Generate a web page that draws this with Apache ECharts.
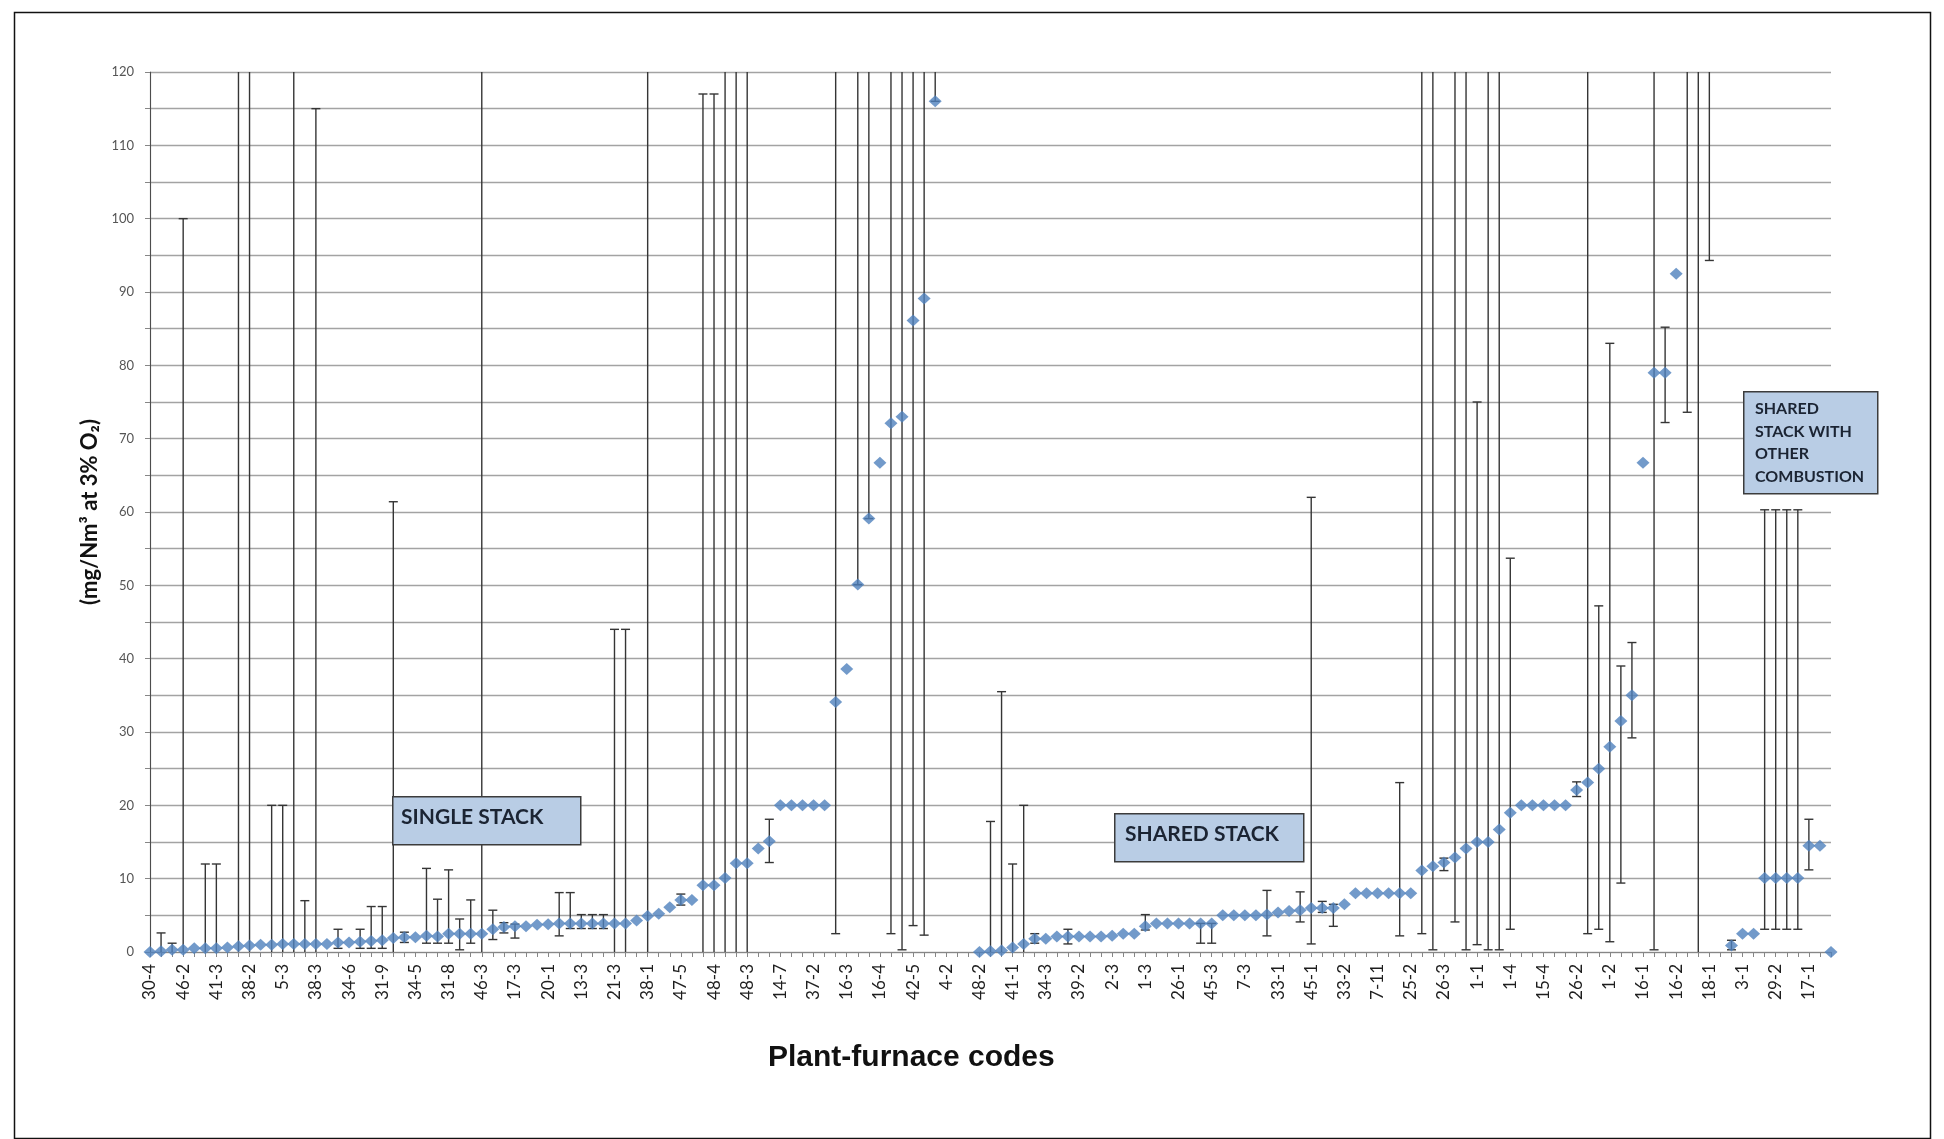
<!DOCTYPE html>
<html><head><meta charset="utf-8">
<script src="https://cdn.jsdelivr.net/npm/echarts/dist/echarts.min.js"></script>
<style>html,body{margin:0;padding:0;background:#fff}#c{width:1944px;height:1139px}</style>
</head><body><div id="c"></div>
<script>
// Tick labels shown on every third category
const tickLabels = ['30-4','46-2','41-3','38-2','5-3','38-3','34-6','31-9','34-5','31-8',
  '46-3','17-3','20-1','13-3','21-3','38-1','47-5','48-4','48-3','14-7','37-2','16-3','16-4','42-5','4-2',
  '48-2','41-1','34-3','39-2','2-3','1-3','26-1','45-3','7-3','33-1','45-1','33-2','7-11','25-2','26-3',
  '1-1','1-4','15-4','26-2','1-2','16-1','16-2','18-1','3-1','29-2','17-1'];

// Mean concentration per plant-furnace (null = no visible point)
const values = [
  0.0,0.1,0.3,0.3,0.5,0.5,0.5,0.6,0.8,0.9,
  1.0,1.0,1.1,1.1,1.1,1.1,1.1,1.3,1.3,1.4,
  1.5,1.6,1.9,2.0,2.0,2.2,2.1,2.5,2.5,2.5,
  2.5,3.1,3.4,3.5,3.5,3.7,3.8,3.9,3.9,3.9,
  3.9,3.9,3.9,3.9,4.3,4.9,5.2,6.1,7.1,7.1,
  9.1,9.1,10.1,12.1,12.1,14.1,15.1,20.0,20.0,20.0,
  20.0,20.0,34.1,38.6,50.1,59.1,66.7,72.1,73.0,86.1,
  89.1,116.0,null,null,null,0.0,0.1,0.2,0.6,1.1,
  1.8,1.8,2.1,2.1,2.1,2.1,2.1,2.2,2.5,2.5,
  3.5,3.9,3.9,3.9,3.9,3.9,3.9,5.0,5.0,5.0,
  5.0,5.1,5.4,5.6,5.7,6.0,6.0,6.0,6.5,8.0,
  8.0,8.0,8.0,8.0,8.0,11.1,11.7,12.2,12.9,14.1,
  15.0,15.0,16.7,19.0,20.0,20.0,20.0,20.0,20.0,22.1,
  23.1,25.0,28.0,31.5,35.0,66.7,79.0,79.0,92.5,null,
  null,null,null,0.9,2.5,2.5,10.1,10.1,10.1,10.1,
  14.5,14.5,0.0];

// Error bar lower / upper limits (null = no error bar; upper above 120 runs off the chart)
const errLow = [
  0,0,0,0,null,0,0,null,0,0,
  null,0,0,0,0,0,null,0.5,null,0.5,
  0.5,0.5,0,1.3,null,1.2,1.2,1.2,0.3,1.2,
  0,1.7,2.6,1.9,null,null,null,2.2,3.2,3.2,
  3.2,3.2,0,0,null,0,null,null,6.4,null,
  0,0,0,0,0,null,12.2,null,null,null,
  null,null,2.5,null,50.1,59.1,null,2.5,0.3,3.6,
  2.3,116.0,null,null,null,null,0,0,0,0,
  1.2,null,null,1.1,null,null,null,null,null,null,
  3.0,null,null,null,null,1.2,1.2,null,null,null,
  null,2.2,null,null,4.1,1.1,5.4,3.5,null,null,
  null,null,null,2.2,null,2.5,0.3,11.1,4.1,0.3,
  1.0,0.3,0.3,3.1,null,null,null,null,null,21.2,
  2.5,3.1,1.4,9.4,29.2,null,0.3,72.2,null,73.6,
  0,94.3,null,0.3,null,null,3.1,3.1,3.1,3.1,
  11.2,null,null];
const errHigh = [
  200,2.6,1.2,100,null,12,12,null,200,200,
  null,20,20,200,7,115,null,3.1,null,3.1,
  6.2,6.2,61.4,2.7,null,11.4,7.2,11.2,4.5,7.1,
  200,5.7,4.0,3.8,null,null,null,8.1,8.1,5.1,
  5.1,5.1,44,44,null,200,null,null,7.9,null,
  117,117,200,200,200,null,18.1,null,null,null,
  null,null,200,null,200,200,null,200,200,200,
  200,200,null,null,null,null,17.8,35.5,12,20,
  2.5,null,null,3.1,null,null,null,null,null,null,
  5.1,null,null,null,null,3.9,3.9,null,null,null,
  null,8.4,null,null,8.2,62,6.9,6.5,null,null,
  null,null,null,23.1,null,200,200,12.8,200,200,
  75,200,200,53.7,null,null,null,null,null,23.2,
  200,47.2,83.0,39.0,42.2,null,200,85.2,null,200,
  200,200,null,1.6,null,null,60.3,60.3,60.3,60.3,
  18.1,null,null];

const categories = values.map((v, i) => i % 3 === 0 ? tickLabels[i / 3] : '');
const Y_MAX = 120;
const errData = [];
values.forEach((v, i) => {
  if (errLow[i] !== null && errHigh[i] !== null) errData.push([i, errLow[i], errHigh[i]]);
});

const chart = echarts.init(document.getElementById('c'), null, {renderer: 'canvas'});
const barColor = '#353535';
chart.setOption({
  backgroundColor: '#ffffff',
  animation: false,
  grid: {left: 150, top: 72, width: 1681, height: 880, containLabel: false},
  xAxis: {
    type: 'category',
    data: categories,
    boundaryGap: false,
    axisLine: {show: true, lineStyle: {color: '#868686', width: 1.2}},
    axisTick: {show: true, interval: 0, length: 5, lineStyle: {color: '#868686'}},
    axisLabel: {interval: 0, rotate: 90, margin: 12, fontFamily: 'Lato', fontSize: 17, color: '#1e1e1e'},
    splitLine: {show: false}
  },
  yAxis: {
    type: 'value', min: 0, max: Y_MAX, interval: 5,
    name: '(mg/Nm³ at 3% O₂)', nameLocation: 'middle', nameGap: 48, nameRotate: 90,
    nameTextStyle: {fontFamily: 'Lato', fontWeight: 'bold', fontSize: 22, color: '#111'},
    axisLine: {show: true, lineStyle: {color: '#868686', width: 1.2}},
    axisTick: {show: true, length: 5, lineStyle: {color: '#868686'}},
    axisLabel: {fontFamily: 'Lato', fontSize: 13, color: '#555', margin: 16,
      formatter: v => (v % 10 === 0 ? String(v) : '')},
    splitLine: {show: true, lineStyle: {color: '#a3a3a3', width: 1.4}}
  },
  series: [
    {
      type: 'custom', name: 'range', data: errData, z: 2, clip: true,
      encode: {x: 0, y: [1, 2]},
      renderItem: function (params, api) {
        const i = api.value(0), lo = api.value(1), hi = api.value(2);
        const hiC = Math.min(hi, Y_MAX);
        const pLo = api.coord([i, lo]);
        const pHi = api.coord([i, hiC]);
        const cw = 4.5;
        const st = {stroke: barColor, lineWidth: 1.4};
        const ch = [{type: 'line', shape: {x1: pLo[0], y1: pLo[1], x2: pHi[0], y2: pHi[1]}, style: st}];
        if (hi <= Y_MAX) ch.push({type: 'line', shape: {x1: pHi[0] - cw, y1: pHi[1], x2: pHi[0] + cw, y2: pHi[1]}, style: st});
        if (lo > 0.05 && lo < api.value(2)) ch.push({type: 'line', shape: {x1: pLo[0] - cw, y1: pLo[1], x2: pLo[0] + cw, y2: pLo[1]}, style: st});
        return {type: 'group', children: ch};
      }
    },
    {
      type: 'scatter', name: 'value', data: values.map(v => v === null ? '-' : v), z: 5,
      symbol: 'diamond', symbolSize: [13, 12], clip: true,
      itemStyle: {color: '#4f81bd'}
    }
  ],
  graphic: [
    {type: 'rect', left: 12, top: 10, shape: {width: 1916, height: 1126},
      style: {fill: 'none', stroke: '#111', lineWidth: 1.5}, z: 0},
    {type: 'rect', left: 392, top: 796, shape: {width: 188, height: 48},
      style: {fill: '#b9cde5', stroke: '#3c3c3c', lineWidth: 1.5}, z: 10},
    {type: 'text', left: 401, top: 807, z: 11,
      style: {text: 'SINGLE STACK', font: 'bold 21px Lato', fill: '#1b2433'}},
    {type: 'rect', left: 1114, top: 813, shape: {width: 189, height: 48},
      style: {fill: '#b9cde5', stroke: '#3c3c3c', lineWidth: 1.5}, z: 10},
    {type: 'text', left: 1125, top: 824, z: 11,
      style: {text: 'SHARED STACK', font: 'bold 21px Lato', fill: '#1b2433'}},
    {type: 'rect', left: 1743, top: 391, shape: {width: 134, height: 102},
      style: {fill: '#b9cde5', stroke: '#3c3c3c', lineWidth: 1.5}, z: 10},
    {type: 'text', left: 1755, top: 398, z: 11,
      style: {text: 'SHARED\nSTACK WITH\nOTHER\nCOMBUSTION', font: 'bold 16px Lato', lineHeight: 22.5, fill: '#1b2433'}},
    {type: 'text', left: 768, top: 1043, z: 11,
      style: {text: 'Plant-furnace codes', font: 'bold 30px "Liberation Sans"', fill: '#111'}}
  ]
});
</script>
</body></html>
